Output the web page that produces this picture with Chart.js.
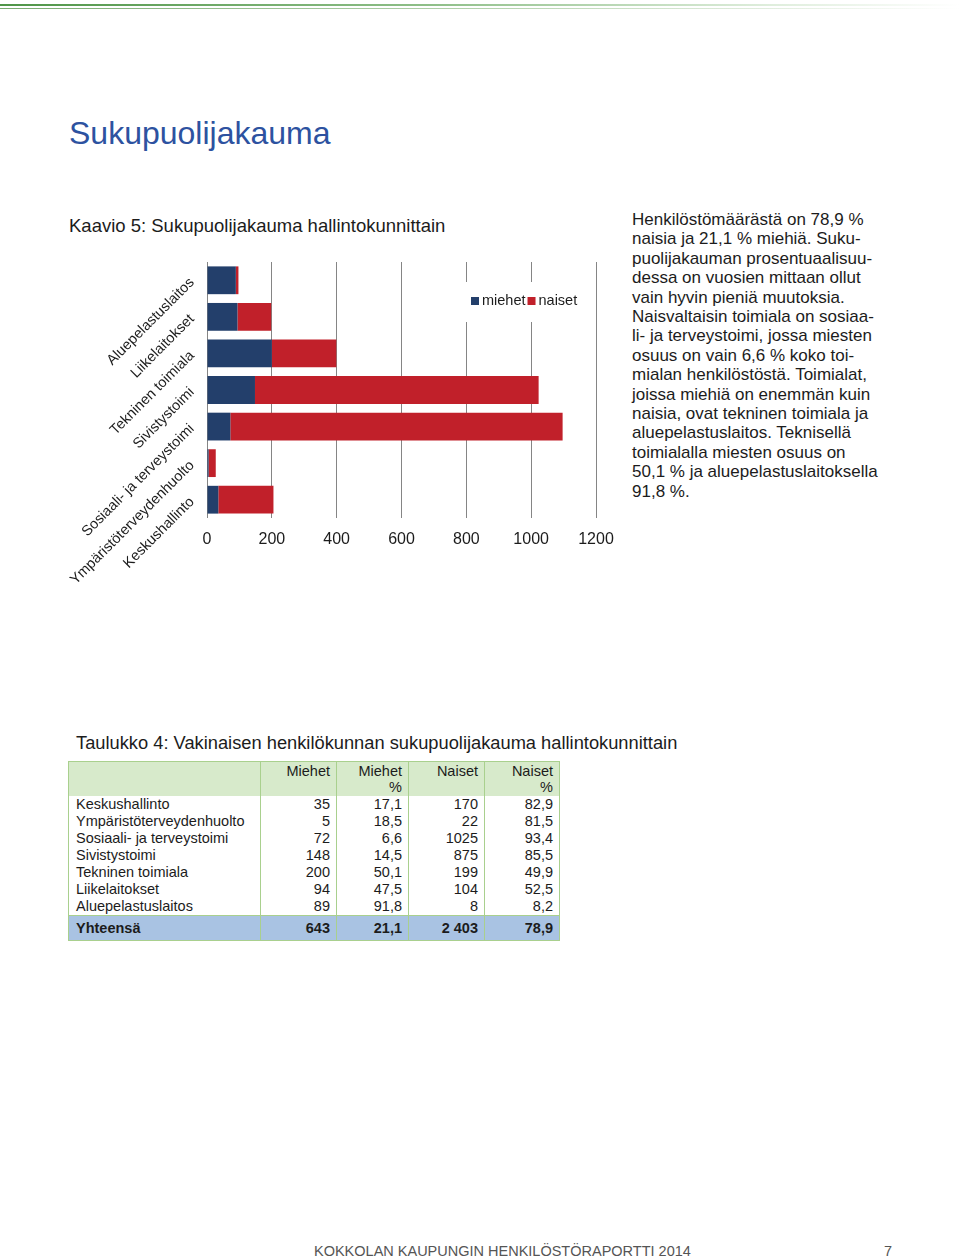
<!DOCTYPE html>
<html lang="fi">
<head>
<meta charset="utf-8">
<title>Sukupuolijakauma</title>
<script src="https://cdn.jsdelivr.net/npm/chart.js@4.4.1/dist/chart.umd.min.js"></script>
<style>
  html, body { margin: 0; padding: 0; background: #fff; }
  body { width: 960px; height: 1258px; position: relative; overflow: hidden;
         font-family: 'Liberation Sans', Arial, sans-serif; color: #1c1c1c; }
  .topline { position: absolute; left: 0; width: 960px; }
  .topline.a { top: 4px; height: 2px; background: linear-gradient(to right, #4f9548, #8fbf89 45%, rgba(190,220,185,0.5) 80%, rgba(255,255,255,0)); }
  .topline.b { top: 8px; height: 1px; background: linear-gradient(to right, #79aa71, #b2d1ac 50%, rgba(255,255,255,0)); }
  h1 { position: absolute; left: 69px; top: 115px; margin: 0; font-weight: normal;
       font-size: 32px; color: #2d52a0; }
  .subtitle { position: absolute; left: 69px; top: 215px; font-size: 18.5px; }
  .para { position: absolute; left: 632px; top: 210px; font-size: 17px; line-height: 19.4px; }
  #chartBox { position: absolute; left: 60px; top: 250px; width: 570px; height: 360px; }
  .caption { position: absolute; left: 76px; top: 732px; font-size: 18.3px; }
  table { position: absolute; left: 68px; top: 761px; border-collapse: collapse;
          font-size: 14.5px; }
  td, th { border-left: 1px solid #a9d08e; border-right: 1px solid #a9d08e; padding: 0 6px;
           height: 17px; line-height: 17px; font-weight: normal; text-align: right; }
  td:first-child, th:first-child { text-align: left; padding-left: 7px; }
  thead th { background: #d7eacb; height: 33px; vertical-align: top; padding-top: 1px; line-height: 16px;
             border-top: 1px solid #a9d08e; }
  tfoot td { background: #a9c3e3; font-weight: bold; height: 21px; line-height: 24px;
             border-top: 1px solid #a9d08e; border-bottom: 1px solid #a9d08e; }
  .footer { position: absolute; left: 314px; top: 1243px; font-size: 14.5px; color: #555; }
  .pageno { position: absolute; left: 884px; top: 1243px; font-size: 14.5px; color: #555; }
</style>
</head>
<body>
<div class="topline a"></div>
<div class="topline b"></div>

<h1>Sukupuolijakauma</h1>
<div class="subtitle">Kaavio 5: Sukupuolijakauma hallintokunnittain</div>

<div class="para">
Henkilöstömäärästä on 78,9 %<br>
naisia ja 21,1 % miehiä. Suku-<br>
puolijakauman prosentuaalisuu-<br>
dessa on vuosien mittaan ollut<br>
vain hyvin pieniä muutoksia.<br>
Naisvaltaisin toimiala on sosiaa-<br>
li- ja terveystoimi, jossa miesten<br>
osuus on vain 6,6 % koko toi-<br>
mialan henkilöstöstä. Toimialat,<br>
joissa miehiä on enemmän kuin<br>
naisia, ovat tekninen toimiala ja<br>
aluepelastuslaitos. Teknisellä<br>
toimialalla miesten osuus on<br>
50,1 % ja aluepelastuslaitoksella<br>
91,8 %.
</div>

<div id="chartBox"><canvas id="bar-chart" width="570" height="360"></canvas></div>

<div class="caption">Taulukko 4: Vakinaisen henkilökunnan sukupuolijakauma hallintokunnittain</div>
<table id="staff-table">
  <thead>
    <tr>
      <th style="width:178px"></th>
      <th style="width:63px">Miehet</th>
      <th style="width:59px">Miehet<br>%</th>
      <th style="width:63px">Naiset</th>
      <th style="width:62px">Naiset<br>%</th>
    </tr>
  </thead>
  <tbody></tbody>
  <tfoot></tfoot>
</table>

<div class="footer">KOKKOLAN KAUPUNGIN HENKILÖSTÖRAPORTTI 2014</div>
<div class="pageno">7</div>

<script>
// DATA (same order as the table)

const categories = [
  'Keskushallinto',
  'Ympäristöterveydenhuolto',
  'Sosiaali- ja terveystoimi',
  'Sivistystoimi',
  'Tekninen toimiala',
  'Liikelaitokset',
  'Aluepelastuslaitos',
];
const miehet = [35, 5, 72, 148, 200, 94, 89];
const miehetPct = ['17,1', '18,5', '6,6', '14,5', '50,1', '47,5', '91,8'];
const naiset = [170, 22, 1025, 875, 199, 104, 8];
const naisetPct = ['82,9', '81,5', '93,4', '85,5', '49,9', '52,5', '8,2'];
const totalRow = ['Yhteensä', '643', '21,1', '2 403', '78,9'];
const seriesLabels = ['miehet', 'naiset'];
const seriesColors = ['#233f6b', '#c1202a'];
const xMax = 1200;
const xStep = 200;

// TABLE

const tbody = document.querySelector('#staff-table tbody');
categories.forEach((name, i) => {
  const tr = document.createElement('tr');
  [name, miehet[i], miehetPct[i], naiset[i], naisetPct[i]].forEach((v) => {
    const td = document.createElement('td');
    td.textContent = v;
    tr.appendChild(td);
  });
  tbody.appendChild(tr);
});
const tfootRow = document.createElement('tr');
totalRow.forEach((v) => {
  const td = document.createElement('td');
  td.textContent = v;
  tfootRow.appendChild(td);
});
document.querySelector('#staff-table tfoot').appendChild(tfootRow);

// Legend drawn inside the plot, on a white patch over the gridlines

const innerLegend = {
  id: 'innerLegend',
  afterDraw(chart) {
    const ctx = chart.ctx;
    const area = chart.chartArea;
    const x0 = area.left + 264;
    const y0 = area.top + 39;
    ctx.save();
    ctx.font = '14.5px "Liberation Sans", Arial, sans-serif';
    ctx.fillStyle = '#fff';
    ctx.fillRect(x0 - 5, area.top + 20, 118, 40);
    ctx.textBaseline = 'middle';
    let x = x0;
    chart.data.datasets.forEach((ds) => {
      ctx.fillStyle = ds.backgroundColor;
      ctx.fillRect(x, y0 - 4, 8, 8);
      x += 11;
      ctx.fillStyle = '#1c1c1c';
      ctx.fillText(ds.label, x, y0);
      x += ctx.measureText(ds.label).width + 2;
    });
    ctx.restore();
  },
};

// BAR CHART

const barChart = document.getElementById('bar-chart');

new Chart(barChart, {
  type: 'bar',
  data: {
    labels: categories,
    datasets: [
      {
        label: seriesLabels[0],
        data: miehet,
        backgroundColor: seriesColors[0],
      },
      {
        label: seriesLabels[1],
        data: naiset,
        backgroundColor: seriesColors[1],
      },
    ],
  },
  options: {
    indexAxis: 'y',
    responsive: false,
    animation: false,
    devicePixelRatio: 1,
    categoryPercentage: 1,
    barPercentage: 0.76,
    layout: {
      padding: { top: 12, right: 34, left: 0, bottom: 0 },
    },
    scales: {
      x: {
        stacked: true,
        min: 0,
        max: xMax,
        ticks: {
          stepSize: xStep,
          padding: 12,
          color: '#1c1c1c',
          font: { family: '"Liberation Sans", Arial, sans-serif', size: 16 },
          callback: (value) => String(value),
        },
        grid: { color: '#858585', drawTicks: false },
        border: { display: false },
        afterFit: (scale) => {
          scale.height = 92;
          scale.paddingLeft = 0;
          scale.paddingRight = 0;
        },
      },
      y: {
        stacked: true,
        reverse: true,
        ticks: {
          minRotation: 45,
          maxRotation: 45,
          padding: 15,
          color: '#1c1c1c',
          font: { family: '"Liberation Sans", Arial, sans-serif', size: 14.5 },
        },
        grid: { display: false, drawTicks: false },
        border: { display: false },
        afterFit: (scale) => {
          scale.width = 147;
          scale.paddingTop = 0;
          scale.paddingBottom = 0;
        },
      },
    },
    plugins: {
      legend: { display: false },
      tooltip: { enabled: false },
    },
  },
  plugins: [innerLegend],
});
</script>
</body>
</html>
